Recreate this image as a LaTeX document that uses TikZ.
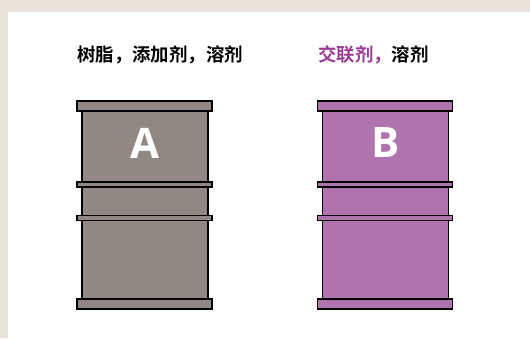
\documentclass[tikz,border=0pt]{standalone}
\usepackage{fontspec}
\newfontfamily\cjk{Noto Sans CJK SC}[BoldFont={* Bold}]
\newfontfamily\lat{Open Sans}
\definecolor{bgbeige}{HTML}{EAE3DA}
\definecolor{grayfill}{HTML}{918883}
\definecolor{purplefill}{HTML}{B073AD}
\definecolor{purpletext}{HTML}{9B3A96}
\begin{document}
\begin{tikzpicture}[x=1pt,y=-1pt,
  part/.style={draw=black,line width=1.8pt},
  letter/.style={text=white,font=\lat\bfseries\fontsize{42}{42}\selectfont,inner sep=0pt},
  title/.style={font=\cjk\bfseries\fontsize{18.4}{18.4}\selectfont,inner sep=0pt,anchor=west}]
\useasboundingbox (0,0) rectangle (530,338);
\fill[bgbeige] (0,0) rectangle (530,338);
\fill[white] (8,12) rectangle (530,338);
\foreach \dx/\col in {0/grayfill,240.5/purplefill}{
  \begin{scope}[xshift=\dx]
  \filldraw[part,fill=\col] (82,111) rectangle (208,299);
  \filldraw[part,fill=\col] (77,101) rectangle (212,111);
  \filldraw[part,fill=\col] (77,182) rectangle (212,187);
  \filldraw[part,fill=\col] (77,215.5) rectangle (212,220.5);
  \filldraw[part,fill=\col] (77,299) rectangle (212,309);
  \end{scope}
}
\node[letter] (la) at (145,143) {A};
\node[letter] (lb) at (385.5,143) {B};
\node[title] (ta) at (77,55) {树脂，添加剂，溶剂};
\node[title] (tb) at (318,55) {\textcolor{purpletext}{交联剂，}溶剂};
\end{tikzpicture}
\end{document}
